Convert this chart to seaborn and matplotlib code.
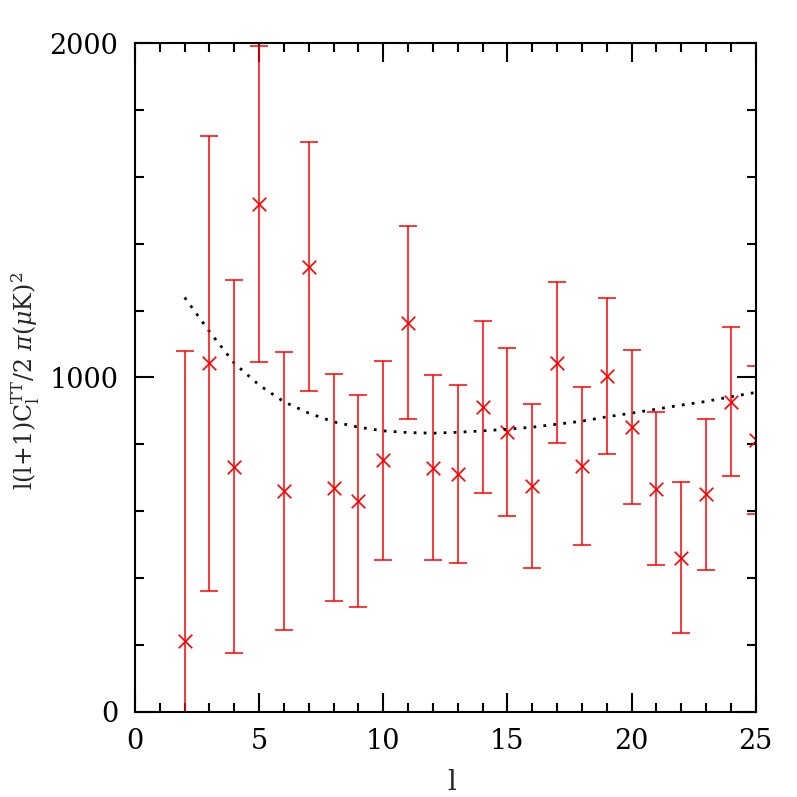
import numpy as np
import pandas as pd
import matplotlib
matplotlib.use('Agg')
import matplotlib.pyplot as plt
from matplotlib.ticker import MultipleLocator
import seaborn as sns

# multipoles and measured band powers
ell = [2, 3, 4, 5, 6, 7, 8, 9, 10, 11, 12, 13, 14, 15, 16, 17, 18, 19, 20, 21, 22, 23, 24, 25]
power = [211, 1042, 733, 1519, 660, 1331, 670, 630, 752, 1164, 730, 711, 912, 837,
         676, 1044, 736, 1005, 851, 667, 461, 650, 927, 813]
err = [867, 681, 557, 472, 416, 372, 340, 316, 297, 289, 277, 267, 258, 251,
       245, 240, 236, 233, 231, 229, 226, 225, 223, 221]

# model curve
model = [1239, 1137, 1042, 977, 927, 893, 867, 851, 840, 835, 833, 836, 840, 845,
         851, 860, 869, 882, 893, 905, 917, 928, 942, 955]

data = pd.DataFrame({'l': ell, 'power': power, 'err': err})
curve = pd.DataFrame({'l': ell, 'model': model})

sns.set_style('ticks')
plt.rcParams['font.family'] = ['DejaVu Serif']
plt.rcParams['mathtext.fontset'] = 'dejavuserif'

fig = plt.figure(figsize=(7.97, 7.97), dpi=100)
ax = fig.add_axes([0.1694, 0.107, 0.7787, 0.839])

sns.lineplot(data=curve, x='l', y='model', color='black', linestyle=(0, (1, 2.6)),
             linewidth=2.0, ax=ax)
ax.errorbar(data['l'], data['power'], yerr=data['err'], fmt='none', ecolor='red',
            elinewidth=1.1, capsize=6.5, capthick=1.1)
sns.scatterplot(data=data, x='l', y='power', marker='x', color='red', s=95,
                linewidth=1.2, ax=ax)

ax.set_xlim(0, 25)
ax.set_ylim(0, 2000)
ax.xaxis.set_major_locator(MultipleLocator(5))
ax.xaxis.set_minor_locator(MultipleLocator(1))
ax.yaxis.set_major_locator(MultipleLocator(1000))
ax.yaxis.set_minor_locator(MultipleLocator(200))
ax.tick_params(which='both', direction='in', top=True, right=True, width=1.5,
               color='black', labelsize=19.5, labelcolor='black')
ax.tick_params(which='major', length=13.7)
ax.tick_params(which='minor', length=6.8)
ax.tick_params(axis='y', pad=12)
ax.tick_params(axis='x', pad=12)
for s in ax.spines.values():
    s.set_visible(True)
    s.set_linewidth(1.5)
    s.set_color('black')

ax.set_xlabel('l', fontsize=20)
ax.xaxis.set_label_coords(0.51, -0.085)
ax.set_ylabel(r'l(l+1)C$_\mathrm{l}^\mathrm{TT}$/2 $\pi(\mu\mathrm{K})^2$', fontsize=17)
ax.yaxis.set_label_coords(-0.15, 0.495)

fig.savefig('out.png', dpi=100)
